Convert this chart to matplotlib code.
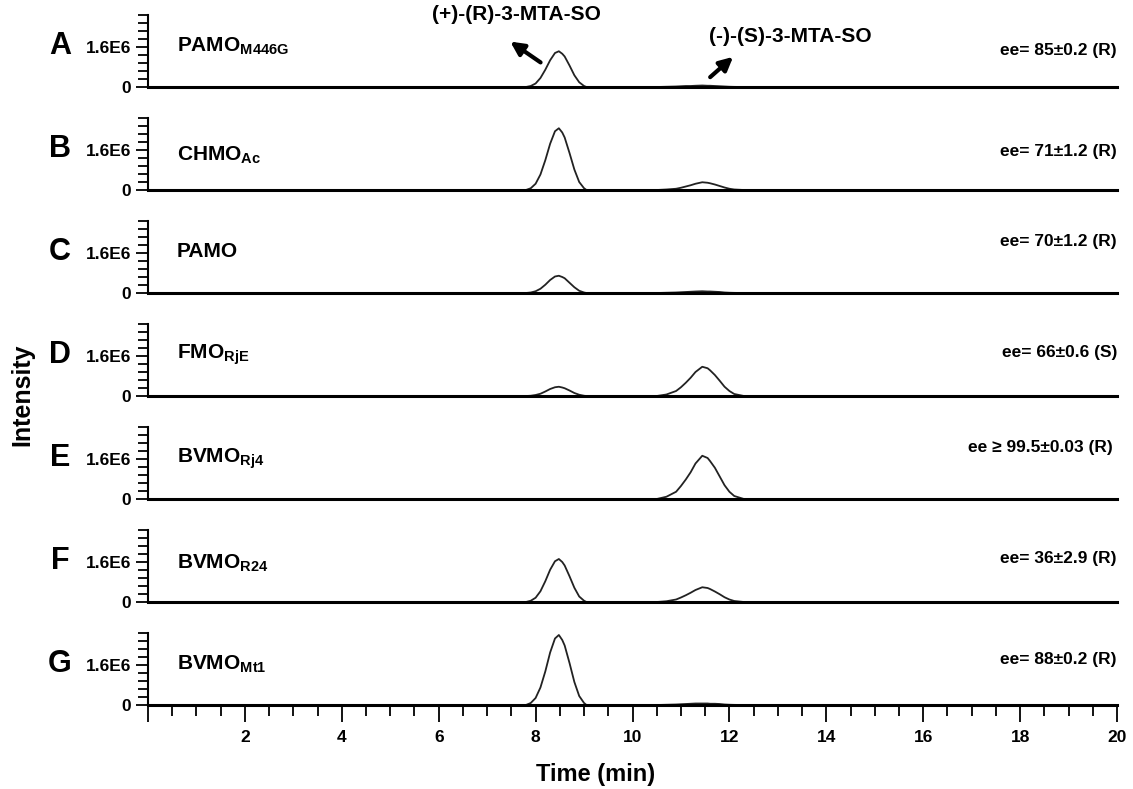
import matplotlib.pyplot as plt
from matplotlib.ticker import MultipleLocator, FixedLocator

plt.rcParams['font.family'] = ['Liberation Sans', 'DejaVu Sans']
plt.rcParams['font.weight'] = 'bold'
plt.rcParams['mathtext.fontset'] = 'custom'
plt.rcParams['mathtext.rm'] = 'Liberation Sans:bold'
plt.rcParams['mathtext.bf'] = 'Liberation Sans:bold'

# panel data
letters = ['A', 'B', 'C', 'D', 'E', 'F', 'G']
enzymes = [r'PAMO$_{\mathbf{M446G}}$', r'CHMO$_{\mathbf{Ac}}$', 'PAMO', r'FMO$_{\mathbf{RjE}}$',
           r'BVMO$_{\mathbf{Rj4}}$', r'BVMO$_{\mathbf{R24}}$', r'BVMO$_{\mathbf{Mt1}}$']
ee_labels = ['ee= 85\u00b10.2 (R)', 'ee= 71\u00b11.2 (R)', 'ee= 70\u00b11.2 (R)', 'ee= 66\u00b10.6 (S)',
             'ee \u2265 99.5\u00b10.03 (R)', 'ee= 36\u00b12.9 (R)', 'ee= 88\u00b10.2 (R)']
x_ticks = [0, 2, 4, 6, 8, 10, 12, 14, 16, 18, 20]
x_ticklabels = ['', '2', '4', '6', '8', '10', '12', '14', '16', '18', '20']

# retention times (min)
t_r = [7.8, 7.9, 8.0, 8.1, 8.2, 8.3, 8.4, 8.48, 8.55, 8.6, 8.7, 8.8, 8.9, 9.0, 9.05]
t_s = [10.5, 10.7, 10.9, 11.0, 11.1, 11.2, 11.3, 11.44, 11.55, 11.6, 11.7, 11.8, 11.9, 12.0, 12.1, 12.3]

# intensities (x1E6) for (+)-(R) peak
r_peak = [
    [0, 0.04, 0.14, 0.36, 0.69, 1.07, 1.36, 1.43, 1.33, 1.22, 0.86, 0.47, 0.19, 0.04, 0],
    [0, 0.07, 0.25, 0.62, 1.19, 1.85, 2.35, 2.47, 2.30, 2.10, 1.48, 0.82, 0.32, 0.07, 0],
    [0, 0.02, 0.07, 0.17, 0.33, 0.52, 0.66, 0.69, 0.64, 0.59, 0.41, 0.23, 0.09, 0.02, 0],
    [0, 0.01, 0.04, 0.09, 0.18, 0.28, 0.35, 0.37, 0.34, 0.31, 0.22, 0.12, 0.05, 0.01, 0],
    [0, 0, 0, 0, 0, 0, 0, 0, 0, 0, 0, 0, 0, 0, 0],
    [0, 0.05, 0.17, 0.43, 0.83, 1.29, 1.63, 1.72, 1.60, 1.46, 1.03, 0.57, 0.22, 0.05, 0],
    [0, 0.08, 0.28, 0.70, 1.34, 2.10, 2.66, 2.80, 2.60, 2.38, 1.68, 0.92, 0.36, 0.08, 0],
]
# intensities (x1E6) for (-)-(S) peak
s_peak = [
    [0, 0.01, 0.02, 0.03, 0.04, 0.04, 0.05, 0.06, 0.05, 0.05, 0.04, 0.03, 0.02, 0.01, 0.005, 0],
    [0, 0.02, 0.05, 0.09, 0.14, 0.19, 0.25, 0.31, 0.29, 0.27, 0.22, 0.16, 0.10, 0.05, 0.02, 0],
    [0, 0.01, 0.02, 0.03, 0.04, 0.05, 0.06, 0.07, 0.06, 0.06, 0.05, 0.04, 0.02, 0.01, 0.005, 0],
    [0, 0.06, 0.20, 0.35, 0.53, 0.73, 0.96, 1.17, 1.11, 1.03, 0.84, 0.61, 0.37, 0.20, 0.08, 0],
    [0, 0.09, 0.29, 0.52, 0.78, 1.07, 1.42, 1.73, 1.64, 1.52, 1.25, 0.90, 0.55, 0.29, 0.12, 0],
    [0, 0.03, 0.10, 0.18, 0.27, 0.37, 0.48, 0.59, 0.56, 0.52, 0.42, 0.31, 0.19, 0.10, 0.04, 0],
    [0, 0.01, 0.02, 0.03, 0.04, 0.05, 0.06, 0.06, 0.06, 0.05, 0.05, 0.04, 0.02, 0.01, 0.005, 0],
]
ee_y = [0.50, 0.53, 0.71, 0.61, 0.72, 0.61, 0.63]
name_y = [0.56, 0.49, 0.57, 0.57, 0.56, 0.54, 0.56]

fig = plt.figure(figsize=(11.33, 7.89), dpi=100)
left, width = 148 / 1133, 969 / 1133
h = 72 / 789
step = 103 / 789
top0 = 1 - 87 / 789

axes = []
for i in range(7):
    ax = fig.add_axes([left, top0 - i * step, width, h])
    axes.append(ax)
    t = [0] + t_r + t_s + [20]
    y = [0] + [v * 1e6 for v in r_peak[i]] + [v * 1e6 for v in s_peak[i]] + [0]
    ax.plot(t, y, color='#222222', lw=1.3)
    ax.set_xlim(0, 20)
    ax.set_ylim(0, 2.88e6)
    for s in ['top', 'right']:
        ax.spines[s].set_visible(False)
    ax.spines['bottom'].set_linewidth(2.2)
    ax.spines['left'].set_linewidth(1.5)
    ax.yaxis.set_major_locator(FixedLocator([0, 1.6e6]))
    ax.set_yticklabels(['0', '1.6E6'])
    ax.yaxis.set_minor_locator(MultipleLocator(0.32e6))
    ax.tick_params(axis='y', which='major', length=9, width=1.3, labelsize=12.5, pad=3)
    ax.tick_params(axis='y', which='minor', length=7, width=1.3)
    if i < 6:
        ax.set_xticks([])
    else:
        ax.set_xticks(x_ticks, x_ticklabels)
        ax.xaxis.set_minor_locator(MultipleLocator(0.5))
        ax.tick_params(axis='x', which='major', length=12, width=1.3, labelsize=12.5, pad=6)
        ax.tick_params(axis='x', which='minor', length=8, width=1.3)
    ax.text(-0.091, 0.57, letters[i], transform=ax.transAxes, fontsize=22,
            fontweight='bold', ha='center', va='center')
    ax.text(0.6, name_y[i] * 2.88e6, enzymes[i], fontsize=15, fontweight='bold',
            ha='left', va='center')
    ax.text(1.0 if i != 4 else 0.996, ee_y[i], ee_labels[i], transform=ax.transAxes,
            fontsize=12.5, fontweight='bold', ha='right', va='center')

# peak annotations in panel A
axA = axes[0]
axA.text(7.6, 2.88e6, '(+)-(R)-3-MTA-SO', fontsize=15, fontweight='bold',
         ha='center', va='center', clip_on=False)
axA.annotate('', xy=(7.43, 1.88e6), xytext=(8.15, 0.92e6),
             arrowprops=dict(arrowstyle='-|>,head_length=0.8,head_width=0.4', color='black', lw=3),
             annotation_clip=False)
axA.text(13.25, 2.0e6, '(-)-(S)-3-MTA-SO', fontsize=15, fontweight='bold',
         ha='center', va='center', clip_on=False)
axA.annotate('', xy=(12.12, 1.28e6), xytext=(11.56, 0.32e6),
             arrowprops=dict(arrowstyle='-|>,head_length=0.8,head_width=0.4', color='black', lw=3),
             annotation_clip=False)

fig.text(22 / 1133, 1 - 395 / 789, 'Intensity', rotation=90, fontsize=18,
         fontweight='bold', ha='center', va='center')
fig.text(596 / 1133, 1 - 775 / 789, 'Time (min)', fontsize=17, fontweight='bold',
         ha='center', va='center')

fig.savefig('out.png', dpi=100)
